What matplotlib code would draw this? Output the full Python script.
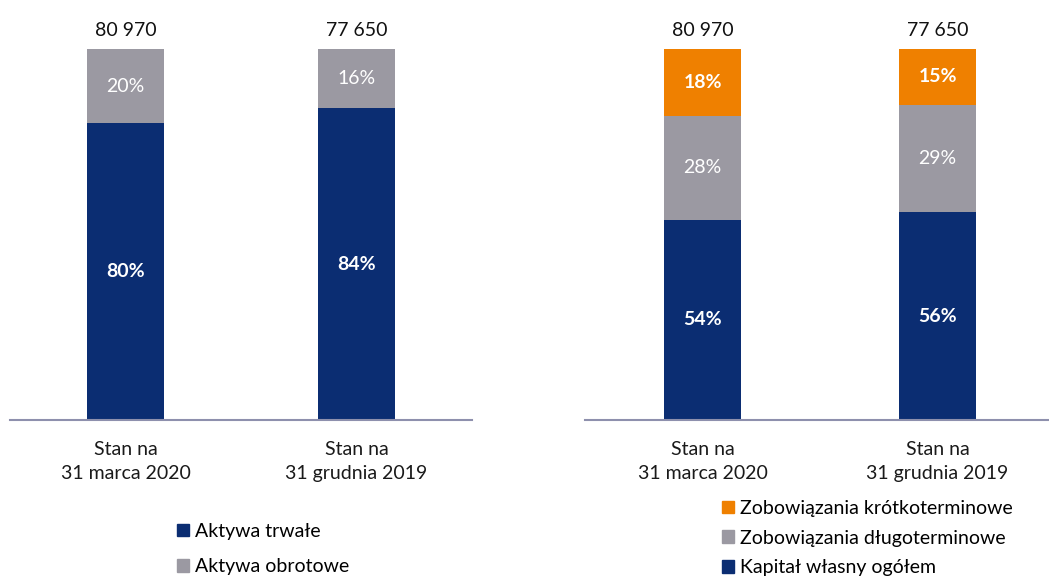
import matplotlib
matplotlib.use("Agg")
import matplotlib.pyplot as plt
from matplotlib.patches import Patch

plt.rcParams['font.family'] = ['Lato', 'DejaVu Sans']

# --- data -------------------------------------------------------------
categories = ["Stan na\n31 marca 2020", "Stan na\n31 grudnia 2019"]
totals = [80970, 77650]

assets_labels = ["Aktywa trwałe", "Aktywa obrotowe"]
assets_fixed = [80, 84]
assets_current = [20, 16]

liab_labels = ["Zobowiązania krótkoterminowe",
               "Zobowiązania długoterminowe",
               "Kapitał własny ogółem"]
equity = [54, 56]
liab_long = [28, 29]
liab_short = [18, 15]

# --- style ------------------------------------------------------------
BLUE = "#0b2d72"
GREY = "#9b99a2"
ORANGE = "#ef8000"
AXIS = "#8e90ad"
FS = 14

W, H = 1049, 576
fig = plt.figure(figsize=(W / 100, H / 100), dpi=100)


def px_axes(x0, x1, y_top, y_bot):
    return fig.add_axes([x0 / W, 1 - y_bot / H, (x1 - x0) / W, (y_bot - y_top) / H])


def style_axes(ax, xlim):
    ax.set_ylim(0, 100)
    ax.set_xlim(*xlim)
    for s in ("top", "right", "left"):
        ax.spines[s].set_visible(False)
    ax.spines["bottom"].set_color(AXIS)
    ax.spines["bottom"].set_linewidth(1.5)
    ax.set_yticks([])
    ax.set_xticks(range(len(categories)))
    ax.set_xticklabels(categories, fontsize=FS, color="#1a1a1a", linespacing=1.5)
    ax.tick_params(axis="x", length=0, pad=15)


def stack(ax, series, colors, bolds, width):
    x = list(range(len(categories)))
    bottoms = [0] * len(x)
    for vals, col, bold in zip(series, colors, bolds):
        bars = ax.bar(x, vals, width, bottom=bottoms, color=col, linewidth=0)
        ax.bar_label(bars, labels=[f"{v}%" for v in vals], label_type="center",
                     color="white", fontsize=FS,
                     fontweight="bold" if bold else "normal")
        bottoms = [b + v for b, v in zip(bottoms, vals)]
    for xi, top, tot in zip(x, bottoms, totals):
        ax.annotate(f"{tot:,}".replace(",", " "), (xi, top), xytext=(0, 9),
                    textcoords="offset points", ha="center", va="baseline",
                    fontsize=FS, color="#111111", annotation_clip=False)


legend_kw = dict(loc="upper left", bbox_transform=fig.transFigure,
                 frameon=False, fontsize=FS, handlelength=0.62,
                 handleheight=0.62, handletextpad=0.3,
                 borderaxespad=0, borderpad=0)

# left panel: assets structure
ax1 = px_axes(10, 472, 49, 420)
style_axes(ax1, (-0.5, 1.5))
stack(ax1, [assets_fixed, assets_current], [BLUE, GREY], [True, False], 0.33)
ax1.legend(handles=[Patch(color=BLUE, label=assets_labels[0]),
                    Patch(color=GREY, label=assets_labels[1])],
           bbox_to_anchor=(177 / W, 1 - 523 / H), labelspacing=0.93,
           **legend_kw)

# right panel: equity and liabilities structure
ax2 = px_axes(585, 1049, 49, 420)
style_axes(ax2, (-0.5, 1.474))
stack(ax2, [equity, liab_long, liab_short], [BLUE, GREY, ORANGE],
      [True, False, True], 0.33)
ax2.legend(handles=[Patch(color=ORANGE, label=liab_labels[0]),
                    Patch(color=GREY, label=liab_labels[1]),
                    Patch(color=BLUE, label=liab_labels[2])],
           bbox_to_anchor=(722 / W, 1 - 500 / H), labelspacing=0.65,
           **legend_kw)

fig.savefig("out.png", dpi=100)
